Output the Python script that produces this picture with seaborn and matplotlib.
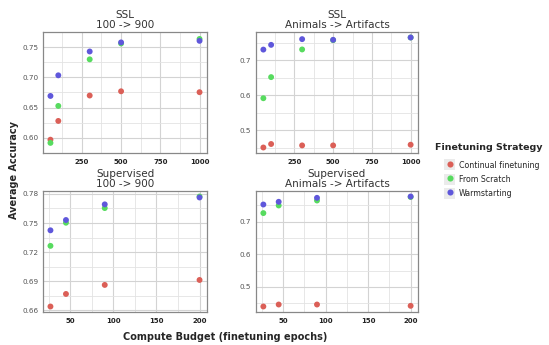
import matplotlib
matplotlib.use("Agg")
import matplotlib.pyplot as plt
import seaborn as sns
import pandas as pd
from matplotlib.lines import Line2D
from matplotlib.patches import Rectangle
from matplotlib.legend_handler import HandlerTuple

# ---- data -------------------------------------------------------------
strategies = ["Continual finetuning", "From Scratch", "Warmstarting"]

ssl_epochs = [50, 100, 300, 500, 1000]
sup_epochs = [27, 45, 90, 200]

# SSL, 100 -> 900
ssl_100_cont = [0.597, 0.628, 0.670, 0.677, 0.6755]
ssl_100_scratch = [0.5917, 0.6528, 0.7298, 0.756, 0.7635]
ssl_100_warm = [0.6693, 0.7034, 0.7428, 0.7578, 0.7604]

# SSL, Animals -> Artifacts
ssl_aa_cont = [0.450, 0.460, 0.456, 0.456, 0.458]
ssl_aa_scratch = [0.5914, 0.652, 0.7314, 0.758, 0.7657]
ssl_aa_warm = [0.731, 0.7446, 0.761, 0.759, 0.7657]

# Supervised, 100 -> 900
sup_100_cont = [0.6641, 0.677, 0.6863, 0.6914]
sup_100_scratch = [0.7265, 0.7503, 0.7654, 0.7773]
sup_100_warm = [0.7425, 0.7531, 0.7692, 0.7763]

# Supervised, Animals -> Artifacts
sup_aa_cont = [0.4397, 0.4458, 0.4458, 0.4418]
sup_aa_scratch = [0.7266, 0.750, 0.7653, 0.776]
sup_aa_warm = [0.753, 0.7613, 0.7735, 0.7776]

panel_titles = ["SSL\n100 -> 900", "SSL\nAnimals -> Artifacts",
                "Supervised\n100 -> 900", "Supervised\nAnimals -> Artifacts"]

ssl_xticks = [250, 500, 750, 1000]
ssl_xminor = [125, 375, 625, 875]
sup_xticks = [50, 100, 150, 200]
sup_xminor = [25, 75, 125, 175]

yticks_ssl_100 = [0.60, 0.65, 0.70, 0.75]
yminor_ssl_100 = [0.575, 0.625, 0.675, 0.725, 0.775]
yticks_aa = [0.5, 0.6, 0.7]
yminor_aa = [0.45, 0.55, 0.65, 0.75]
yticks_sup_100 = [0.66, 0.69, 0.72, 0.75, 0.78]
yminor_sup_100 = [0.675, 0.705, 0.735, 0.765]


def frame(epochs, cont, scratch, warm):
    rows = []
    for name, vals in zip(strategies, [cont, scratch, warm]):
        for e, v in zip(epochs, vals):
            rows.append({"epochs": e, "acc": v, "strategy": name})
    return pd.DataFrame(rows)


panels = [
    (frame(ssl_epochs, ssl_100_cont, ssl_100_scratch, ssl_100_warm),
     ssl_xticks, ssl_xminor, yticks_ssl_100, yminor_ssl_100, "{:.2f}"),
    (frame(ssl_epochs, ssl_aa_cont, ssl_aa_scratch, ssl_aa_warm),
     ssl_xticks, ssl_xminor, yticks_aa, yminor_aa, "{:.1f}"),
    (frame(sup_epochs, sup_100_cont, sup_100_scratch, sup_100_warm),
     sup_xticks, sup_xminor, yticks_sup_100, yminor_sup_100, "{:.2f}"),
    (frame(sup_epochs, sup_aa_cont, sup_aa_scratch, sup_aa_warm),
     sup_xticks, sup_xminor, yticks_aa, yminor_aa, "{:.1f}"),
]

# ---- styling ----------------------------------------------------------
sns.set_style("white")
plt.rcParams["font.family"] = ["DejaVu Sans"]
palette = sns.color_palette("hls", 3)

W, H = 549, 345
fig = plt.figure(figsize=(W / 100, H / 100), dpi=100)

# axes boxes in pixels: (left, top, width, height)
boxes = [(43, 32, 164, 121), (256, 32, 162, 121),
         (43, 191, 164, 121), (256, 191, 162, 121)]

for (df, xt, xm, yt, ym, yfmt), box, title in zip(panels, boxes, panel_titles):
    l, t, w, h = box
    ax = fig.add_axes([l / W, 1 - (t + h) / H, w / W, h / H])
    ax.set_axisbelow(True)
    sns.scatterplot(data=df, x="epochs", y="acc", hue="strategy",
                    hue_order=strategies, palette=palette, s=18,
                    linewidth=0, alpha=1, ax=ax, legend=False, zorder=3)
    ax.margins(0.05)
    ax.set_xticks(xt)
    ax.set_xticklabels([str(v) for v in xt], fontweight="bold")
    ax.set_xticks(xm, minor=True)
    ax.set_yticks(yt)
    ax.set_yticklabels([yfmt.format(v) for v in yt])
    ax.set_yticks(ym, minor=True)
    ax.grid(which="major", color="#d3d3d3", linewidth=0.8)
    ax.grid(which="minor", color="#e3e3e3", linewidth=0.6)
    ax.tick_params(axis="x", which="major", color="red", length=2, width=1,
                   pad=2, labelsize=5, labelcolor="#222222")
    ax.tick_params(axis="y", which="major", color="#555555", length=2.5,
                   width=0.8, pad=1, labelsize=5.2, labelcolor="#555555")
    ax.tick_params(which="minor", length=0)
    for sp in ax.spines.values():
        sp.set_color("#888888")
        sp.set_linewidth(0.9)
    ax.set_xlabel("")
    ax.set_ylabel("")
    ax.set_title(title, fontsize=7.5, color="#333333", pad=3, linespacing=0.95)

fig.text(225 / W, 1 - 337 / H, "Compute Budget (finetuning epochs)",
         ha="center", va="center", fontsize=7, fontweight="bold")
fig.text(14 / W, 1 - 170 / H, "Average Accuracy", rotation=90,
         ha="center", va="center", fontsize=7, fontweight="bold")

# legend: title as its own text, keys indented beneath it
fig.text(435 / W, 1 - 148 / H, "Finetuning Strategy", ha="left", va="center",
         fontsize=6.8, fontweight="bold")

handles = []
for c in palette:
    bg = Rectangle((0, 0), 1, 1, facecolor="#ebebeb", edgecolor="none")
    mk = Line2D([], [], marker="o", linestyle="", markersize=4.4,
                markerfacecolor=c, markeredgewidth=0)
    handles.append((bg, mk))

leg = fig.legend(handles, strategies,
                 handler_map={tuple: HandlerTuple(ndivide=1, pad=0)},
                 loc="upper left", bbox_to_anchor=(444 / W, 1 - 159.5 / H),
                 frameon=False, fontsize=5.7, handlelength=1.4,
                 handleheight=1.76, handletextpad=0.45, labelspacing=0.38,
                 borderpad=0, borderaxespad=0)

fig.savefig("out.png", dpi=100)
